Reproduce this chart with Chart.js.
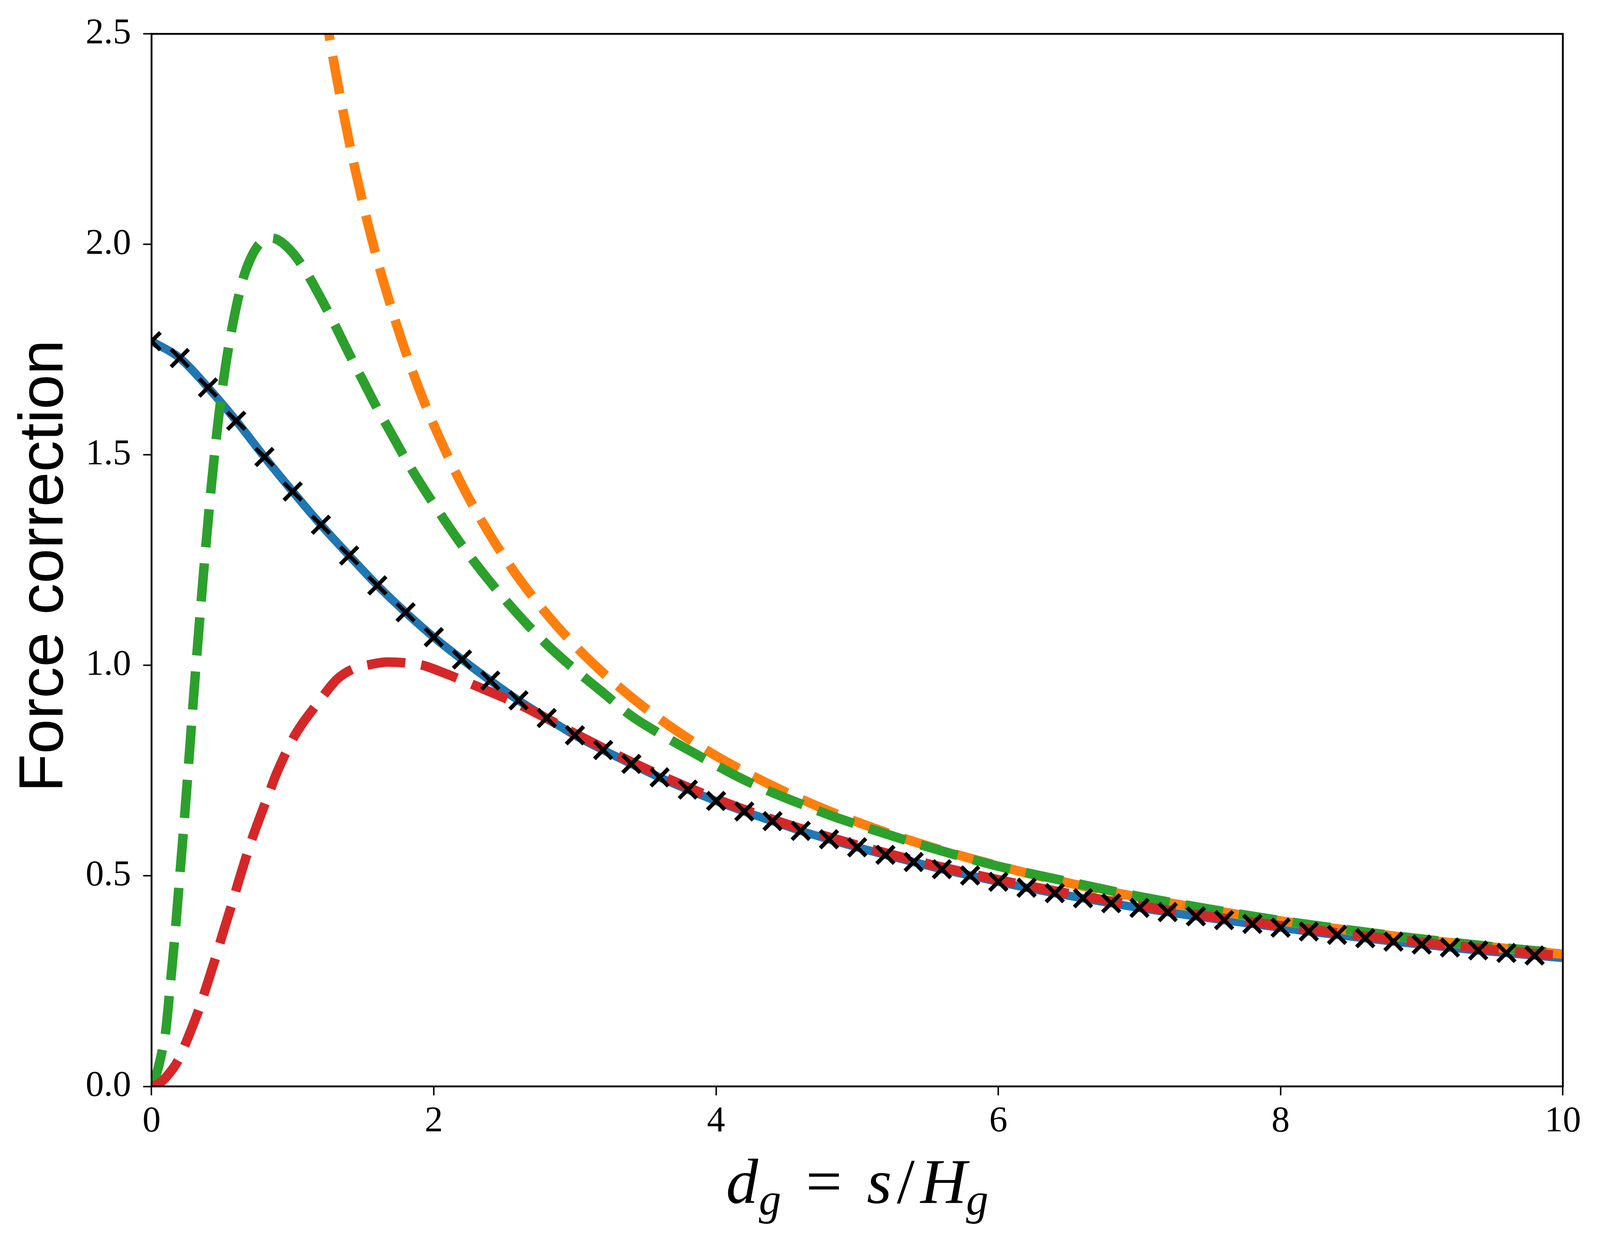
<!DOCTYPE html>
<html>
<head>
<meta charset="utf-8">
<script src="https://cdn.jsdelivr.net/npm/chart.js@4.4.0/dist/chart.umd.min.js"></script>
<style>
  html, body { margin: 0; padding: 0; background: #fff; overflow: hidden; }
  #wrap { position: relative; }
</style>
</head>
<body>
<div id="wrap"><canvas id="chart"></canvas></div>
<script>
// tick labels
const xTicks = [0, 2, 4, 6, 8, 10];
const yTicks = [0, 0.5, 1.0, 1.5, 2.0, 2.5];

// blue solid curve (and the x markers sit on it)
const blueX = [0, 0.2, 0.4, 0.6, 0.8, 1.0, 1.2, 1.4, 1.6, 1.8, 2.0, 2.2, 2.4, 2.6, 2.8, 3.0, 3.2, 3.4, 3.6, 3.8,
  4.0, 4.2, 4.4, 4.6, 4.8, 5.0, 5.2, 5.4, 5.6, 5.8, 6.0, 6.2, 6.4, 6.6, 6.8, 7.0, 7.2, 7.4, 7.6, 7.8,
  8.0, 8.2, 8.4, 8.6, 8.8, 9.0, 9.2, 9.4, 9.6, 9.8, 10];
const blueY = [1.770, 1.730, 1.660, 1.581, 1.495, 1.413, 1.334, 1.261, 1.190, 1.126, 1.067, 1.014, 0.964, 0.917, 0.875, 0.834, 0.799, 0.766, 0.734, 0.705,
  0.678, 0.653, 0.630, 0.607, 0.587, 0.568, 0.550, 0.533, 0.516, 0.501, 0.486, 0.472, 0.459, 0.447, 0.435, 0.424, 0.414, 0.404, 0.395, 0.386,
  0.377, 0.368, 0.360, 0.352, 0.344, 0.337, 0.330, 0.323, 0.317, 0.311, 0.305];

// black crosses (every 0.2 up to 9.8)
const markX = blueX.slice(0, 50);
const markY = blueY.slice(0, 50);

// orange dashed
const orangeX = [1.2566, 1.3, 1.4, 1.5, 1.6, 1.7, 1.8, 1.9, 2.0, 2.2, 2.4, 2.6, 2.8, 3.0, 3.25, 3.5, 3.75, 4.0,
  4.5, 5.0, 5.5, 6.0, 6.5, 7.0, 7.5, 8.0, 8.5, 9.0, 9.5, 10];
const orangeY = [2.5, 2.417, 2.244, 2.094, 1.963, 1.848, 1.745, 1.653, 1.571, 1.428, 1.309, 1.208, 1.122, 1.047, 0.967, 0.898, 0.838, 0.785,
  0.698, 0.628, 0.571, 0.524, 0.483, 0.449, 0.419, 0.393, 0.370, 0.349, 0.331, 0.314];

// green dashed
const greenX = [0, 0.04, 0.077, 0.1, 0.128, 0.166, 0.2, 0.232, 0.263, 0.293, 0.328, 0.362, 0.392, 0.428, 0.472, 0.527, 0.593,
  0.65, 0.7, 0.75, 0.8, 0.85, 0.9, 1.0, 1.1, 1.2, 1.3, 1.4, 1.5, 1.6, 1.7, 1.8, 1.9, 2.0, 2.2, 2.4, 2.6, 2.8, 3.0,
  3.2, 3.4, 3.6, 3.8, 4.0, 4.2, 4.4, 4.6, 4.8, 5.0, 5.5, 6.0, 6.5, 7.0, 7.5, 8.0, 8.5, 9.0, 9.5, 10];
const greenY = [0, 0.035, 0.088, 0.13, 0.224, 0.36, 0.50, 0.632, 0.768, 0.904, 1.055, 1.194, 1.311, 1.441, 1.580, 1.717, 1.840,
  1.920, 1.965, 1.995, 2.010, 2.015, 2.010, 1.980, 1.932, 1.872, 1.808, 1.740, 1.675, 1.610, 1.550, 1.490, 1.435, 1.383, 1.285, 1.198, 1.120, 1.050, 0.990,
  0.935, 0.880, 0.838, 0.800, 0.763, 0.728, 0.698, 0.671, 0.645, 0.622, 0.569, 0.523, 0.486, 0.451, 0.421, 0.394, 0.371, 0.350, 0.332, 0.316];

// red dashed
const redX = [0, 0.05, 0.107, 0.189, 0.239, 0.341, 0.379, 0.463, 0.499, 0.581, 0.617, 0.70, 0.741, 0.84, 0.884, 1.004, 1.065,
  1.177, 1.317, 1.43, 1.548, 1.671, 1.8, 1.926, 2.042, 2.2, 2.4, 2.6, 2.8, 3.0, 3.5, 4.0, 4.5, 5.0, 5.5, 6.0, 6.5,
  7.0, 7.5, 8.0, 8.5, 9.0, 9.5, 10];
const redY = [0, 0.006, 0.0235, 0.062, 0.10, 0.188, 0.227, 0.316, 0.357, 0.446, 0.4875, 0.576, 0.615, 0.703, 0.742, 0.827, 0.86,
  0.91, 0.968, 0.992, 1.002, 1.008, 1.006, 1.000, 0.986, 0.965, 0.937, 0.908, 0.874, 0.838, 0.755, 0.683, 0.623, 0.573, 0.529, 0.491, 0.458,
  0.429, 0.404, 0.382, 0.361, 0.342, 0.325, 0.310];

// sizes below are in pixels of the 4392x3183 figure; kx / ky map them to the window
const kx = window.innerWidth / 4392;
const ky = window.innerHeight / 3183;
const px = (v) => v * kx;
const py = (v) => v * ky;

function pts(xs, ys) {
  return xs.map((x, i) => ({ x: x, y: ys[i] }));
}

function dashed(label, xs, ys, color, order, offset) {
  return {
    label: label,
    data: pts(xs, ys),
    borderColor: color,
    borderWidth: px(26),
    borderDash: [px(105), px(44)],
    borderDashOffset: px(offset),
    borderCapStyle: "butt",
    pointRadius: 0,
    cubicInterpolationMode: "monotone",
    clip: 0,
    order: order,
  };
}

// spines on all four sides, drawn over the curves like matplotlib
const framePlugin = {
  id: "frame",
  afterDatasetsDraw(chart) {
    const { ctx, chartArea: a } = chart;
    ctx.save();
    ctx.strokeStyle = "#000";
    ctx.lineWidth = px(5);
    ctx.strokeRect(a.left, a.top, a.right - a.left, a.bottom - a.top);
    ctx.restore();
  },
};

// axis titles (x title needs subscripts)
const titlePlugin = {
  id: "titles",
  afterDraw(chart) {
    const { ctx, chartArea: a } = chart;
    ctx.save();
    ctx.fillStyle = "#000";

    // y title
    ctx.save();
    ctx.translate(px(172), (a.top + a.bottom) / 2 + py(15));
    ctx.rotate(-Math.PI / 2);
    ctx.font = px(172) + "px 'Liberation Sans'";
    ctx.textAlign = "center";
    ctx.textBaseline = "alphabetic";
    ctx.fillText("Force correction", 0, 0);
    ctx.restore();

    // x title: d_g = s/H_g
    const big = "italic " + px(176) + "px 'Liberation Serif'";
    const sub = "italic " + px(122) + "px 'Liberation Serif'";
    const up = px(176) + "px 'Liberation Serif'";
    const parts = [
      { t: "d", f: big, dy: 0, gap: 0 },
      { t: "g", f: sub, dy: 30, gap: 2 },
      { t: "=", f: up, dy: 0, gap: 68 },
      { t: "s", f: big, dy: 0, gap: 68 },
      { t: "/", f: up, dy: 0, gap: 14 },
      { t: "H", f: big, dy: 0, gap: 16 },
      { t: "g", f: sub, dy: 30, gap: -2 },
    ];
    let total = 0;
    parts.forEach((p) => {
      ctx.font = p.f;
      p.w = ctx.measureText(p.t).width;
      total += px(p.gap) + p.w;
    });
    let x = (a.left + a.right) / 2 - total / 2;
    const base = py(3080);
    ctx.textAlign = "left";
    ctx.textBaseline = "alphabetic";
    parts.forEach((p) => {
      x += px(p.gap);
      ctx.font = p.f;
      ctx.fillText(p.t, x, base + py(p.dy));
      x += p.w;
    });
    ctx.restore();
  },
};

function main() {
  const wrap = document.querySelector("#wrap");
  wrap.style.width = window.innerWidth + "px";
  wrap.style.height = window.innerHeight + "px";
  const canvas = document.querySelector("#chart");

  new Chart(canvas, {
    type: "line",
    data: {
      datasets: [
        {
          label: "numerical",
          data: pts(markX, markY),
          showLine: false,
          pointStyle: "crossRot",
          pointRadius: px(34),
          pointBorderWidth: px(11),
          pointBorderColor: "#000",
          pointBackgroundColor: "#000",
          clip: 0,
          order: 0,
        },
        dashed("red", redX, redY, "#d62728", 1, 0),
        dashed("green", greenX, greenY, "#2ca02c", 2, 0),
        dashed("orange", orangeX, orangeY, "#ff7f0e", 3, 87),
        {
          label: "blue",
          data: pts(blueX, blueY),
          borderColor: "#1f77b4",
          borderWidth: px(23),
          pointRadius: 0,
          cubicInterpolationMode: "monotone",
          clip: 0,
          order: 4,
        },
      ],
    },
    options: {
      responsive: true,
      maintainAspectRatio: false,
      animation: false,
      events: [],
      layout: { padding: { top: py(85), right: px(102), left: 0, bottom: 0 } },
      plugins: {
        legend: { display: false },
        tooltip: { enabled: false },
      },
      scales: {
        x: {
          type: "linear",
          min: 0,
          max: 10,
          afterBuildTicks: (s) => { s.ticks = xTicks.map((v) => ({ value: v })); },
          afterFit: (s) => { s.height = py(401); },
          border: { display: false },
          grid: {
            drawOnChartArea: false,
            drawTicks: true,
            tickLength: py(23),
            tickWidth: px(4),
            tickColor: "#000",
          },
          ticks: {
            color: "#000",
            padding: py(12),
            maxRotation: 0,
            font: { family: "'Liberation Serif'", size: px(100) },
            callback: (v) => String(v),
          },
        },
        y: {
          type: "linear",
          min: 0,
          max: 2.5,
          afterBuildTicks: (s) => { s.ticks = yTicks.map((v) => ({ value: v })); },
          afterFit: (s) => { s.width = px(416); },
          border: { display: false },
          grid: {
            drawOnChartArea: false,
            drawTicks: true,
            tickLength: px(23),
            tickWidth: px(4),
            tickColor: "#000",
          },
          ticks: {
            color: "#000",
            padding: px(33),
            font: { family: "'Liberation Serif'", size: px(100) },
            callback: (v) => Number(v).toFixed(1),
          },
        },
      },
    },
    plugins: [framePlugin, titlePlugin],
  });
}

main();
</script>
</body>
</html>
